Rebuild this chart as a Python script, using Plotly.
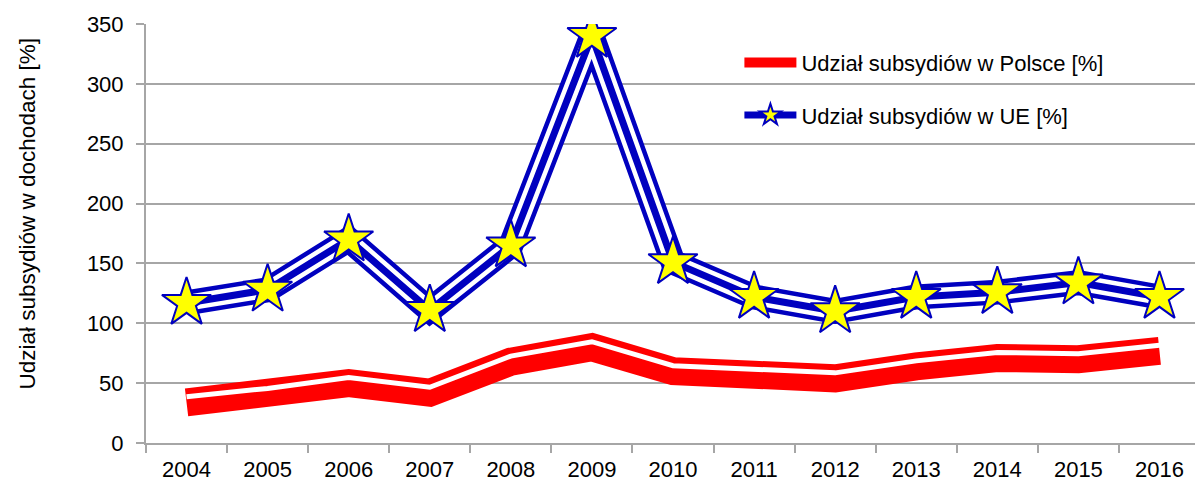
import plotly.graph_objects as go

years = ["2004", "2005", "2006", "2007", "2008", "2009", "2010",
         "2011", "2012", "2013", "2014", "2015", "2016"]
polska = [34, 41, 50, 42, 68, 80, 60, 57, 54, 64, 71, 70, 77]
ue = [117, 128, 170, 111, 165, 340, 151, 122, 110, 122, 126, 134, 122]

RED = "#ff0000"
BLUE = "#0000bf"
GRID = "#a6a6a6"
FONT = "Liberation Sans, Arial, sans-serif"

fig = go.Figure()

# red "3D" band: thick red stroke with a white stripe shifted upward
fig.add_trace(go.Scatter(x=years, y=polska, mode="lines", name="Udział subsydiów w Polsce [%]",
                         line=dict(color=RED, width=28), legendgroup="pl"))
fig.add_trace(go.Scatter(x=years, y=polska, mode="lines", yaxis="y2", showlegend=False,
                         line=dict(color="white", width=5), hoverinfo="skip"))

# blue triple stroke with star markers
fig.add_trace(go.Scatter(x=years, y=ue, mode="lines", showlegend=False,
                         line=dict(color=BLUE, width=25), hoverinfo="skip"))
fig.add_trace(go.Scatter(x=years, y=ue, mode="lines", showlegend=False,
                         line=dict(color="white", width=16), hoverinfo="skip"))
fig.add_trace(go.Scatter(x=years, y=ue, mode="lines+markers", name="Udział subsydiów w UE [%]",
                         line=dict(color=BLUE, width=7), legendgroup="ue",
                         marker=dict(symbol="star", size=37, color="#ffff00",
                                     line=dict(color=BLUE, width=2))))

fig.add_annotation(text="Udział subsydiów w dochodach [%]", textangle=-90,
                   xref="paper", yref="paper", x=0, y=0.5, xanchor="center", yanchor="middle",
                   xshift=-119, yshift=19, showarrow=False,
                   font=dict(family=FONT, size=22.5, color="black"))

fig.update_layout(
    width=1195, height=480,
    margin=dict(l=138, r=3, t=16, b=45),
    paper_bgcolor="white", plot_bgcolor="white",
    font=dict(family=FONT, size=21, color="black"),
    xaxis=dict(type="category", range=[-0.5, 12.5], showgrid=False,
               showline=True, linecolor=GRID, linewidth=2,
               ticks="outside", tickson="boundaries", ticklen=8,
               tickcolor=GRID, tickwidth=2, ticklabelstandoff=6,
               tickfont=dict(size=22)),
    yaxis=dict(range=[0, 350], dtick=50, showgrid=True, gridcolor=GRID, gridwidth=2,
               showline=True, linecolor=GRID, linewidth=2,
               ticks="outside", ticklen=8, tickcolor=GRID, tickwidth=2,
               zeroline=False, ticklabelstandoff=8, tickfont=dict(size=22)),
    yaxis2=dict(overlaying="y", range=[-4.6, 345.4], visible=False),
    legend=dict(x=0.563, y=0.958, xanchor="left", yanchor="top",
                bgcolor="rgba(0,0,0,0)", itemwidth=52, tracegroupgap=21,
                traceorder="grouped", font=dict(size=22)),
)

fig.write_html("out.html")
